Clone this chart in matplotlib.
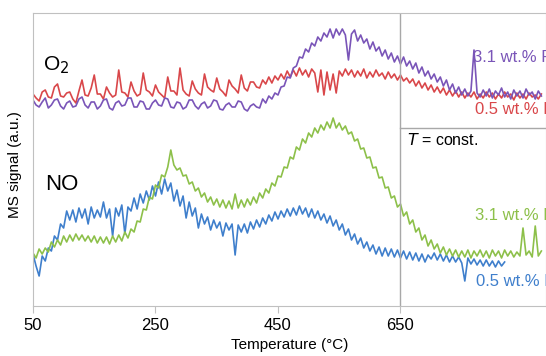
import matplotlib.pyplot as plt

plt.rcParams['font.family'] = ['Liberation Sans', 'DejaVu Sans']

# MS signals every 5 deg C, starting at 50 deg C
# O2 signal, 3.1 wt.% (purple)
o2_high = [206, 201, 199, 204, 208, 198, 201, 206, 207, 200,
           197, 203, 205, 199, 200, 207, 209, 201, 198, 204,
           204, 197, 200, 206, 207, 198, 196, 203, 205, 200,
           201, 208, 208, 199, 199, 205, 204, 197, 197, 203,
           206, 201, 200, 208, 207, 199, 198, 204, 203, 197,
           199, 206, 206, 200, 197, 202, 204, 198, 200, 206,
           205, 197, 196, 201, 203, 199, 199, 205, 204, 197,
           195, 200, 202, 199, 198,
           207, 203, 210, 207, 213, 211, 219, 220, 229, 228,
           238, 240, 249, 248, 257, 254, 263, 260, 269, 265,
           273, 269, 277, 268, 277, 271, 277, 271, 246, 272,
           276, 265, 271, 263, 267, 257, 264, 255, 259, 250,
           256, 247, 253, 244, 250, 242, 249, 240, 245, 237,
           243, 233, 239, 230, 235, 227, 232, 224, 229, 220,
           226, 216, 222, 213, 219, 211, 217, 210, 215, 256,
           213, 209, 216, 210, 217, 208, 215, 211, 218, 209,
           214, 207, 216, 210, 215, 208, 217, 211, 214, 207,
           215, 210]

# O2 signal, 0.5 wt.% (red)
o2_low = [212, 208, 205, 214, 216, 209, 208, 219, 222, 210,
          209, 213, 214, 207, 203, 215, 226, 211, 210, 218,
          231, 212, 212, 207, 219, 213, 209, 211, 236, 214,
          213, 209, 224, 215, 210, 212, 233, 216, 214, 210,
          221, 214, 211, 208, 229, 215, 215, 211, 238, 216,
          212, 210, 225, 217, 213, 211, 232, 219, 216, 214,
          228, 217, 214, 210, 226, 220, 217, 213, 231, 218,
          215, 224, 224, 219, 218,
          226, 222, 229, 223, 230, 226, 232, 227, 235, 229,
          236, 230, 238, 231, 236, 229, 237, 233, 214, 236,
          211, 234, 216, 232, 213, 235, 230, 237, 231, 236,
          229, 235, 230, 237, 228, 234, 229, 236, 230, 233,
          227, 234, 228, 232, 226, 231, 225, 228, 223, 227,
          220, 225, 218, 223, 216, 221, 214, 219, 213, 218,
          211, 216, 210, 215, 209, 214, 208, 213, 209, 214,
          207, 212, 208, 214, 209, 213, 207, 212, 208, 214,
          209, 212, 206, 213, 208, 212, 207, 213, 209, 211,
          207, 212]

# NO signal, 3.1 wt.% (green)
no_high = [53, 48, 57, 52, 58, 54, 64, 59, 66, 61,
           70, 64, 71, 65, 72, 66, 71, 65, 70, 64,
           70, 63, 69, 63, 69, 62, 70, 64, 71, 65,
           74, 68, 77, 74, 85, 84, 97, 96, 109, 107,
           121, 118, 131, 129, 139, 156, 141, 136, 138, 130,
           131, 122, 124, 115, 118, 109, 113, 104, 109, 101,
           107, 99, 106, 98, 105, 97, 112, 98, 106, 99,
           107, 101, 109, 103, 113, 108, 117, 113, 123, 120,
           130, 129, 139, 138, 149, 147, 159, 156, 167, 163,
           173, 169, 178, 173, 181, 176, 184, 178, 188, 178,
           183, 176, 180, 172, 174, 165, 167, 157, 158, 148,
           149, 138, 139, 128, 129, 118, 119, 108, 110, 99,
           102, 90, 94, 82, 86, 74, 78, 66, 71, 60,
           66, 57, 62, 53, 59, 51, 57, 50, 56, 49,
           55, 49, 56, 48, 55, 50, 56, 49, 55, 48,
           56, 50, 55, 48, 56, 50, 55, 49, 54, 50,
           78, 51, 55, 49, 80, 50, 55]

# NO signal, 0.5 wt.% (blue), recorded up to 820 deg C
no_low = [52, 40, 30, 50, 45, 58, 55, 70, 66, 82,
          78, 95, 86, 96, 84, 98, 88, 97, 82, 99,
          88, 96, 89, 104, 88, 97, 70, 98, 90, 101,
          72, 99, 95, 108, 97, 112, 103, 115, 106, 120,
          110, 124, 112, 127, 115, 123, 105, 116, 100, 110,
          88, 104, 90, 98, 78, 92, 82, 89, 76, 86,
          78, 84, 70, 83, 76, 82, 51, 81, 74, 82,
          73, 84, 77, 86, 79, 88, 82, 91, 85, 94,
          87, 95, 89, 97, 90, 98, 91, 100, 92, 98,
          89, 97, 88, 95, 86, 92, 83, 90, 80, 86,
          76, 82, 71, 77, 66, 72, 62, 68, 58, 64,
          55, 61, 52, 59, 50, 58, 50, 57, 49, 56,
          48, 55, 47, 54, 46, 53, 45, 52, 44, 51,
          47, 53, 46, 52, 45, 51, 44, 50, 44, 49,
          43, 25, 48, 42, 47, 41, 46, 40, 46, 40,
          45, 39, 45, 40, 44]

x_ticks = [50, 250, 450, 650]
labels = ['3.1 wt.% Pt', '0.5 wt.% Pt', '3.1 wt.% Pt', '0.5 wt.% Pt']

c_purple = '#7a55b8'
c_red = '#d9474a'
c_green = '#8dc04a'
c_blue = '#3f7fcc'
c_axis = '#c0c0c0'


def temps(values):
    return [50 + 5 * i for i in range(len(values))]


fig = plt.figure(figsize=(5.46, 3.56), dpi=100)
ax = fig.add_axes([33 / 546, 50 / 356, 513 / 546, 293 / 356])

ax.plot(temps(o2_low), o2_low, color=c_red, lw=1.2)
ax.plot(temps(o2_high), o2_high, color=c_purple, lw=1.2)
ax.plot(temps(no_low), no_low, color=c_blue, lw=1.2)
ax.plot(temps(no_high), no_high, color=c_green, lw=1.2)

ax.set_xlim(50, 50 + 513 / 0.6125)
ax.set_ylim(0, 293)

# isothermal part
ax.axvline(650, color='#a8a8a8', lw=1.0)
ax.plot([650, 900], [178, 178], color='#a8a8a8', lw=1.0)
ax.text(660, 166, '$T$ = const.', fontsize=11.5, va='center', ha='left')

ax.text(66, 241, 'O$_2$', fontsize=15, va='center', ha='left')
ax.text(70, 121, 'NO', fontsize=16, va='center', ha='left')

ax.text(768, 249, labels[0], color=c_purple, fontsize=12, va='center')
ax.text(771, 196, labels[1], color=c_red, fontsize=12, va='center')
ax.text(772, 90, labels[2], color=c_green, fontsize=12, va='center')
ax.text(774, 25, labels[3], color=c_blue, fontsize=12, va='center')

ax.set_xticks(x_ticks)
ax.set_yticks([])
ax.tick_params(axis='x', direction='out', length=5, color=c_axis,
               labelsize=12, pad=4)
for side in ['left', 'bottom', 'top', 'right']:
    ax.spines[side].set_color(c_axis)
ax.set_xlabel('Temperature (°C)', fontsize=11, labelpad=3)
fig.text(15 / 546, 1 - 165 / 356, 'MS signal (a.u.)', rotation=90,
         fontsize=11, ha='center', va='center')

fig.savefig('out.png', dpi=100)
